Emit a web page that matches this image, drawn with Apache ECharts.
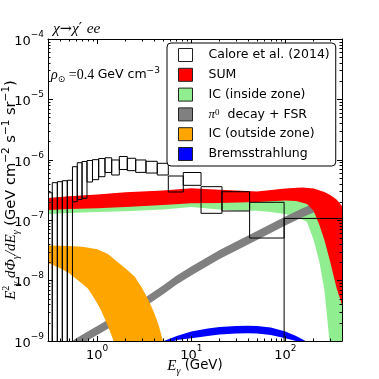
<!DOCTYPE html>
<html><head><meta charset="utf-8">
<script src="https://cdn.jsdelivr.net/npm/echarts@6/dist/echarts.min.js"></script>
<style>html,body{margin:0;padding:0;background:#fff}#c{width:379px;height:379px}</style>
</head><body><div id="c"></div>
<script>
// ---------- axis ticks ----------
const xMajor = [1, 10, 100];
const xMinor = [0.4,0.5,0.6,0.7,0.8,0.9,2,3,4,5,6,7,8,9,20,30,40,50,60,70,80,90,200,300];
const yMajor = [1e-9,1e-8,1e-7,1e-6,1e-5,1e-4];
const yMinor = [];
for (let p = -9; p < -4; p++) for (let k = 2; k <= 9; k++) yMinor.push(k * Math.pow(10, p));

// ---------- Calore et al. (2014) boxes ----------
const caloreElo = [0.300,0.333,0.377,0.426,0.481,0.546,0.614,0.690,0.779,0.891,1.037,1.21,1.426,1.718,2.089,2.566,3.30,4.35,5.70,8.22,12.7,21.2,41.7,97];
const caloreEhi = [0.333,0.377,0.426,0.481,0.546,0.614,0.690,0.779,0.891,1.037,1.21,1.426,1.718,2.089,2.566,3.30,4.35,5.70,8.22,12.7,21.2,41.7,97,500];
const caloreHi  = [2.85e-7,4.18e-7,4.34e-7,4.51e-7,4.58e-7,7.69e-7,8.95e-7,9.37e-7,9.73e-7,1.005e-6,1.05e-6,1.08e-6,9.93e-7,1.135e-6,1.06e-6,9.93e-7,9.45e-7,8.75e-7,5.39e-7,6.16e-7,3.59e-7,2.96e-7,1.98e-7,1.07e-7];
const caloreLo  = [null,null,null,null,null,2.02e-7,2.20e-7,2.31e-7,4.29e-7,4.69e-7,5.25e-7,6.16e-7,5.60e-7,6.91e-7,6.61e-7,6.19e-7,6.04e-7,5.60e-7,2.93e-7,3.78e-7,1.30e-7,1.42e-7,5.07e-8,null];

// ---------- SUM ----------
const sumHiE = [0.3,0.5,1,2,5,10,20,50,100,150,200,260,300,350,400];
const sumHi  = [2.33e-7,2.49e-7,2.66e-7,2.90e-7,3.10e-7,3.37e-7,3.18e-7,2.99e-7,3.35e-7,3.48e-7,3.35e-7,2.93e-7,2.61e-7,2.20e-7,1.72e-7];
const sumLoE = [0.3,0.5,1,2,5,10,20,50,100,130,170,200,230,260,300,350,400];
const sumLo  = [1.47e-7,1.53e-7,1.57e-7,1.65e-7,1.79e-7,1.90e-7,1.93e-7,2.00e-7,2.12e-7,2.08e-7,1.85e-7,1.42e-7,8.33e-8,4.70e-8,2.03e-8,7.54e-9,3.95e-9];

// ---------- IC (inside zone) ----------
const icInHiE = [0.3,0.5,1,2,5,10,20,50,100,130,170,200,230,260,300,350,400];
const icInHi  = [1.62e-7,1.68e-7,1.72e-7,1.80e-7,1.95e-7,2.06e-7,2.10e-7,2.18e-7,2.30e-7,2.25e-7,2.02e-7,1.58e-7,9.4e-8,5.3e-8,2.3e-8,8.6e-9,4.6e-9];
const icInLoE = [0.3,0.5,1,2,5,10,15,20,30,50,70,100,130,170,200,230,260,280,300,350,400];
const icInLo  = [1.27e-7,1.32e-7,1.37e-7,1.40e-7,1.50e-7,1.66e-7,1.56e-7,1.50e-7,1.44e-7,1.44e-7,1.37e-7,1.27e-7,1.15e-7,9.33e-8,4.70e-8,2.03e-8,6.98e-9,2.23e-9,7.1e-10,1e-10,1e-11];

// ---------- pi0 decay + FSR ----------
const pi0E  = [0.55,0.7,1,1.5,2,3,5,7,10,20,50,100,150,200,240];
const pi0Hi = [1.02e-9,1.28e-9,1.77e-9,2.55e-9,3.33e-9,4.87e-9,8.30e-9,1.21e-8,1.71e-8,3.21e-8,6.62e-8,1.15e-7,1.56e-7,1.89e-7,1.72e-7];
const pi0Lo = [7.23e-10,9.09e-10,1.26e-9,1.81e-9,2.36e-9,3.45e-9,5.89e-9,8.61e-9,1.21e-8,2.28e-8,4.70e-8,8.17e-8,1.11e-7,1.34e-7,1.17e-7];

// ---------- IC (outside zone) ----------
const icOutHiE = [0.3,0.5,0.7,1,1.3,1.7,2,2.5,3,3.5,4,4.5,5,5.3];
const icOutHi  = [3.81e-8,3.74e-8,3.63e-8,3.3e-8,2.75e-8,1.95e-8,1.59e-8,1.17e-8,7.54e-9,4.77e-9,3.02e-9,1.84e-9,1.0e-9,7.1e-10];
const icOutLoE = [0.3,0.4,0.5,0.6,0.7,0.8,0.9,1,1.1,1.2,1.3,1.4,1.5,1.6];
const icOutLo  = [1.95e-8,1.62e-8,1.34e-8,1.06e-8,8.79e-9,7.3e-9,5.5e-9,4.2e-9,3.2e-9,2.35e-9,1.75e-9,1.32e-9,9.8e-10,7.1e-10];

// ---------- Bremsstrahlung ----------
const bremHiE = [4.8,7,10,15,20,30,40,50,70,100,130,160,180];
const bremHi  = [9.62e-10,1.21e-9,1.44e-9,1.61e-9,1.71e-9,1.77e-9,1.79e-9,1.77e-9,1.67e-9,1.44e-9,1.21e-9,1.02e-9,8.9e-10];
const bremLoE = [5,7,10,15,20,30,40,50,70,100,130,160];
const bremLo  = [8.59e-10,1.04e-9,1.11e-9,1.21e-9,1.28e-9,1.33e-9,1.35e-9,1.33e-9,1.26e-9,1.11e-9,1.0e-9,8.6e-10];

const NAMES = ['Calore et al. (2014)','SUM','IC (inside zone)','π0 decay + FSR','IC (outside zone)','Bremsstrahlung'];
const COLORS = ['#ffffff','#ff0000','#90ee90','#808080','#ffa500','#0000ff'];

function clipOf(cs){ return {type:'rect', shape:{x:cs.x, y:cs.y, width:cs.width, height:cs.height}}; }

function band(name, color, xh, yh, xl, yl) {
  return {
    type:'custom', name, coordinateSystem:'cartesian2d', xAxisIndex:0, yAxisIndex:0,
    silent:true, clip:true, itemStyle:{color},
    data:[[xh[0], yh[0]]],
    renderItem:(params, api) => {
      const pts = [];
      for (let i = 0; i < xh.length; i++) pts.push(api.coord([xh[i], yh[i]]));
      for (let i = xl.length - 1; i >= 0; i--) pts.push(api.coord([xl[i], yl[i]]));
      return {type:'polygon', shape:{points:pts}, style:{fill:color, stroke:'transparent', lineWidth:0}, clipPath:clipOf(params.coordSys)};
    }
  };
}

const FF = '"DejaVu Sans"';
const SERIF = '"Liberation Serif"';
const tickRich = {
  b:{fontFamily:FF, fontSize:13, color:'#000', lineHeight:18, verticalAlign:'bottom'},
  s:{fontFamily:FF, fontSize:9, color:'#000', lineHeight:10, verticalAlign:'top'}
};
const powFmt = v => { const e = Math.round(Math.log10(v)); return '{b|10}{s|' + String(e).replace('-', '−') + '}'; };

const xNameRich = {
  e:{fontFamily:SERIF, fontStyle:'italic', fontSize:15, color:'#000', lineHeight:20},
  sb:{fontFamily:SERIF, fontStyle:'italic', fontSize:10, color:'#000', lineHeight:10, verticalAlign:'bottom'},
  n:{fontFamily:FF, fontSize:13.3, color:'#000', lineHeight:20}
};
const yNameRich = {
  e:{fontFamily:SERIF, fontStyle:'italic', fontSize:15, color:'#000', lineHeight:20},
  sp:{fontFamily:SERIF, fontSize:10, color:'#000', lineHeight:10, verticalAlign:'top'},
  sb:{fontFamily:SERIF, fontStyle:'italic', fontSize:10, color:'#000', lineHeight:10, verticalAlign:'bottom'},
  n:{fontFamily:FF, fontSize:14.6, color:'#000', lineHeight:20},
  sp2:{fontFamily:FF, fontSize:10.5, color:'#000', lineHeight:10, verticalAlign:'top'}
};

function logAxis(kind, pos, major, min, max, extra) {
  const ax = {
    type:'log', logBase:10, min, max, position:pos, z:10,
    axisLine:{show:major, lineStyle:{color:'#000', width:1}},
    axisTick:{show:true, inside:true, length: major ? 5 : 2.5, customValues: kind, lineStyle:{color:'#000', width:1}},
    axisLabel:{show:false},
    splitLine:{show:false}, minorTick:{show:false}
  };
  return Object.assign(ax, extra || {});
}

const chart = echarts.init(document.getElementById('c'), null, {renderer:'canvas'});
const option = {
  animation:false,
  backgroundColor:'#fff',
  grid:{left:48, top:39, width:294, height:302, containLabel:false, outerBoundsMode:'none'},
  xAxis:[
    logAxis(xMajor,'bottom',true,0.3,400,{
      axisLabel:{show:true, customValues:xMajor, formatter:powFmt, rich:tickRich, margin:3},
      name:'{e|E}{sb|γ}{n| (GeV)}', nameLocation:'middle', nameGap:15, nameMoveOverlap:false,
      nameTextStyle:{rich:xNameRich}
    }),
    logAxis(xMinor,'bottom',false,0.3,400),
    logAxis(xMajor,'top',true,0.3,400),
    logAxis(xMinor,'top',false,0.3,400)
  ],
  yAxis:[
    logAxis(yMajor,'left',true,1e-9,1e-4,{
      axisLabel:{show:true, customValues:yMajor, formatter:powFmt, rich:tickRich, margin:4},
      name:'{e|E}{sp|2}{sb|γ}{e| dΦ}{sb|γ}{e|/dE}{sb|γ}{n| (GeV cm}{sp2|−2}{n| s}{sp2|−1}{n| sr}{sp2|−1}{n|)}',
      nameLocation:'middle', nameGap:27, nameRotate:90, nameMoveOverlap:false,
      nameTextStyle:{rich:yNameRich}
    }),
    logAxis(yMinor,'left',false,1e-9,1e-4),
    logAxis(yMajor,'right',true,1e-9,1e-4),
    logAxis(yMinor,'right',false,1e-9,1e-4)
  ],
  legend:{
    orient:'vertical', left:167, top:43, z:20, selectedMode:false,
    padding:[5,6,5,11], itemWidth:14, itemHeight:13, itemGap:5.8,
    backgroundColor:'#fff', borderColor:'#000', borderWidth:1, borderRadius:4,
    textStyle:{fontFamily:FF, fontSize:12.5, color:'#000', lineHeight:13, padding:[0,0,0,11],
      rich:{
        m:{fontFamily:SERIF, fontStyle:'italic', fontSize:13, color:'#000', lineHeight:13},
        ms:{fontFamily:SERIF, fontSize:9, color:'#000', lineHeight:9, verticalAlign:'top'},
        t:{fontFamily:FF, fontSize:12.5, color:'#000', lineHeight:13}
      }},
    formatter: n => n === NAMES[3] ? '{m|π}{ms|0}{t|  decay + FSR}' : n,
    data: NAMES.map((n, i) => ({name:n, icon:'rect', itemStyle:{color:COLORS[i], borderColor:'#222', borderWidth:1}}))
  },
  graphic:[
    {type:'text', left:53, top:21, z:30, style:{
      text:'{i|χ}{r|→}{i|χ}{r|′ }{i|ee}',
      rich:{i:{fontFamily:SERIF, fontStyle:'italic', fontSize:15.5, fill:'#000'}, r:{fontFamily:'DejaVu Serif', fontSize:14.5, fill:'#000'}}
    }},
    {type:'text', left:51, top:66, z:30, style:{
      text:'{i|ρ}{sb|⊙}{r| =0.4 }{n|GeV cm}{sp|−3}',
      rich:{
        i:{fontFamily:SERIF, fontStyle:'italic', fontSize:14, fill:'#000', lineHeight:18},
        sb:{fontFamily:'DejaVu Sans', fontSize:9, fill:'#000', lineHeight:8, verticalAlign:'bottom'},
        r:{fontFamily:SERIF, fontSize:14, fill:'#000', lineHeight:18},
        n:{fontFamily:FF, fontSize:12.5, fill:'#000', lineHeight:18},
        sp:{fontFamily:FF, fontSize:9, fill:'#000', lineHeight:9, verticalAlign:'top'}
      }
    }}
  ],
  series:[
    band(NAMES[2], COLORS[2], icInHiE, icInHi, icInLoE, icInLo),
    band(NAMES[3], COLORS[3], pi0E, pi0Hi, pi0E, pi0Lo),
    band(NAMES[1], COLORS[1], sumHiE, sumHi, sumLoE, sumLo),
    band(NAMES[4], COLORS[4], icOutHiE, icOutHi, icOutLoE, icOutLo),
    band(NAMES[5], COLORS[5], bremHiE, bremHi, bremLoE, bremLo),
    {
      type:'custom', name:NAMES[0], coordinateSystem:'cartesian2d', xAxisIndex:0, yAxisIndex:0,
      silent:true, clip:true, itemStyle:{color:'#fff'}, z:5,
      data: caloreElo.map((e, i) => [e, caloreHi[i]]),
      renderItem:(params, api) => {
        const cs = params.coordSys, i = params.dataIndex;
        const p0 = api.coord([caloreElo[i], caloreHi[i]]);
        const p1 = api.coord([caloreEhi[i], caloreHi[i]]);
        const yb = caloreLo[i] == null ? cs.y + cs.height + 3 : api.coord([caloreElo[i], caloreLo[i]])[1];
        return {type:'rect', shape:{x:p0[0], y:p0[1], width:p1[0]-p0[0], height:yb-p0[1]},
          style:{fill:'transparent', stroke:'#000', lineWidth:1}, clipPath:clipOf(cs)};
      }
    }
  ]
};
chart.setOption(option);
</script>
</body></html>
